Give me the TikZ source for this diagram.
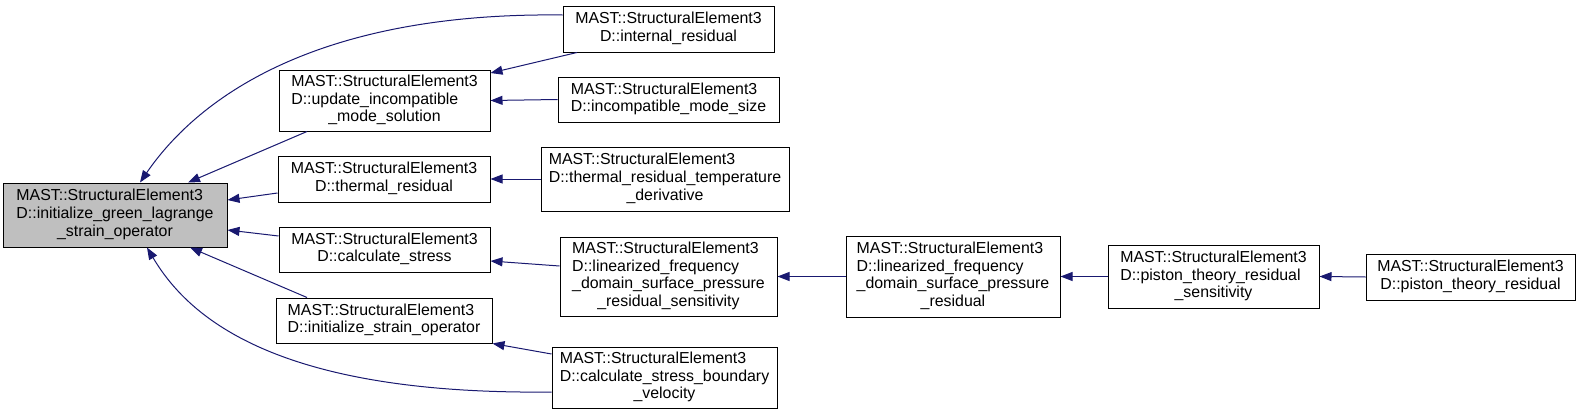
\documentclass[tikz,border=0pt]{standalone}
\usepackage{fontspec}
\setmainfont{Liberation Sans}
\usetikzlibrary{arrows.meta, positioning, calc}
\definecolor{edgeblue}{RGB}{25,25,112}
\definecolor{rootgrey}{RGB}{191,191,191}
\newcommand{\fnlabel}[2]{\begin{tabular}{@{}l@{}}#1\\\multicolumn{1}{@{}c@{}}{#2}\end{tabular}}
\tikzset{
  fbox/.style = {draw=black, line width=1pt, fill=white, inner sep=0pt,
                 font=\fontsize{15.9}{17.7}\selectfont},
  root/.style = {fbox, fill=rootgrey},
  edge/.style = {{Triangle[length=12pt,width=9pt]}-, line width=1pt, color=edgeblue},
}

\begin{document}
\begin{tikzpicture}[x=1pt, y=-1pt]
  \useasboundingbox (0,0) rectangle (1583,415);
  % first column
  \node[root, minimum width=224, minimum height=64] (main) at (115,215)
    {\fnlabel{MAST::StructuralElement3\\D::initialize\_green\_lagrange}{\_strain\_operator}};
  % second column
  \node[fbox, minimum width=211, minimum height=61] (upd) at (384.5,100.5)
    {\fnlabel{MAST::StructuralElement3\\D::update\_incompatible}{\_mode\_solution}};
  \node[fbox, minimum width=212, minimum height=46] (therm) at (384,179)
    {\fnlabel{MAST::StructuralElement3}{D::thermal\_residual}};
  \node[fbox, minimum width=211, minimum height=45] (calcs) at (384.5,249.5)
    {\fnlabel{MAST::StructuralElement3}{D::calculate\_stress}};
  \node[fbox, minimum width=216, minimum height=45] (initstr) at (384,320.5)
    {\fnlabel{MAST::StructuralElement3}{D::initialize\_strain\_operator}};
  % third column
  \node[fbox, minimum width=211, minimum height=46] (intres) at (668.5,29)
    {\fnlabel{MAST::StructuralElement3}{D::internal\_residual}};
  \node[fbox, minimum width=221, minimum height=45] (incomp) at (668.5,99.5)
    {\fnlabel{MAST::StructuralElement3}{D::incompatible\_mode\_size}};
  \node[fbox, minimum width=248, minimum height=64] (thermdT) at (665,179)
    {\fnlabel{MAST::StructuralElement3\\D::thermal\_residual\_temperature}{\_derivative}};
  \node[fbox, minimum width=217, minimum height=79] (linsens) at (668.5,276.5)
    {\fnlabel{MAST::StructuralElement3\\D::linearized\_frequency\\\_domain\_surface\_pressure}{\_residual\_sensitivity}};
  \node[fbox, minimum width=225, minimum height=61] (csbv) at (664.5,377.5)
    {\fnlabel{MAST::StructuralElement3\\D::calculate\_stress\_boundary}{\_velocity}};
  % chain to the right
  \node[fbox, minimum width=214, minimum height=81] (linres) at (953,276.5)
    {\fnlabel{MAST::StructuralElement3\\D::linearized\_frequency\\\_domain\_surface\_pressure}{\_residual}};
  \node[fbox, minimum width=211, minimum height=63] (pistsens) at (1213.5,276.5)
    {\fnlabel{MAST::StructuralElement3\\D::piston\_theory\_residual}{\_sensitivity}};
  \node[fbox, minimum width=209, minimum height=46] (pistres) at (1470.5,277)
    {\fnlabel{MAST::StructuralElement3}{D::piston\_theory\_residual}};

  % callers of main
  \draw[edge] ([xshift=25pt]main.north) .. controls (200,95) and (320,12) .. ([yshift=14pt]intres.west);
  \draw[edge] ([xshift=73pt]main.north) -- ([xshift=-77.5pt]upd.south);
  \draw[edge] ([yshift=15pt]main.east) -- ([yshift=-14pt]therm.west);
  \draw[edge] ([yshift=-15pt]main.east) -- ([yshift=13.5pt]calcs.west);
  \draw[edge] ([xshift=75pt]main.south) -- ([xshift=-77pt]initstr.north);
  \draw[edge] ([xshift=32pt]main.south) .. controls (190,320) and (280,395) .. ([yshift=-14.5pt]csbv.west);
  % callers of second column
  \draw[edge] ([yshift=27.5pt]upd.east) -- ([xshift=-91.5pt]intres.south);
  \draw[edge] (upd.east) -- (incomp.west);
  \draw[edge] (therm.east) -- (thermdT.west);
  \draw[edge] ([yshift=-11.5pt]calcs.east) -- ([yshift=10.5pt]linsens.west);
  \draw[edge] (initstr.south east) -- ([yshift=23.5pt]csbv.west);
  % chain
  \draw[edge] (linsens.east) -- (linres.west);
  \draw[edge] (linres.east) -- (pistsens.west);
  \draw[edge] (pistsens.east) -- (pistres.west);
\end{tikzpicture}
\end{document}
